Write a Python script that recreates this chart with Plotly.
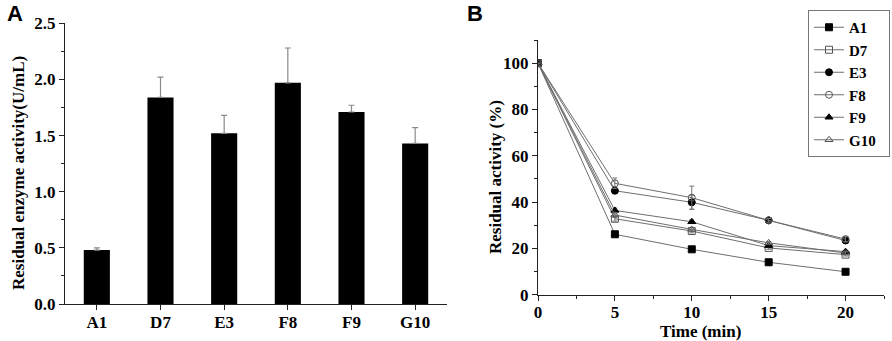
import plotly.graph_objects as go

# Panel A data
strains = ["A1", "D7", "E3", "F8", "F9", "G10"]
activity = [0.48, 1.84, 1.52, 1.97, 1.71, 1.43]
activity_err = [0.02, 0.18, 0.16, 0.31, 0.06, 0.14]

# Panel B data
time_min = [0, 5, 10, 15, 20]
res_A1 = [100, 26.1, 19.6, 14.0, 9.9]
res_D7 = [100, 32.8, 27.5, 20.2, 17.3]
res_E3 = [100, 44.9, 39.9, 32.1, 23.4]
res_F8 = [100, 48.1, 41.9, 32.1, 24.0]
res_F9 = [100, 36.4, 31.5, 21.2, 18.6]
res_G10 = [100, 34.4, 28.2, 22.4, 18.0]
err_A1 = [0, 0.8, 0.6, 0.5, 0.5]
err_D7 = [0, 1.0, 0.8, 0.6, 0.6]
err_E3 = [0, 1.0, 3.0, 0.6, 0.8]
err_F8 = [0, 2.3, 5.0, 0.8, 1.0]
err_F9 = [0, 1.0, 0.8, 0.6, 0.6]
err_G10 = [0, 1.0, 0.8, 0.6, 0.6]

FONT = "Liberation Serif"
SANS = "Liberation Sans"
LINE = "#6e6e6e"
W, H = 892, 341

fig = go.Figure()

fig.add_trace(go.Bar(
    x=strains, y=activity, width=0.41,
    marker=dict(color="black", line=dict(width=0)),
    error_y=dict(type="data", symmetric=False, array=activity_err,
                 arrayminus=[0]*len(activity_err), color="#8a8a8a",
                 thickness=1.2, width=3),
    xaxis="x", yaxis="y", showlegend=False,
))

series = [
    ("A1", res_A1, err_A1, "square", "black"),
    ("D7", res_D7, err_D7, "square-open", "#555555"),
    ("E3", res_E3, err_E3, "circle", "black"),
    ("F8", res_F8, err_F8, "circle-open", "#555555"),
    ("F9", res_F9, err_F9, "triangle-up", "black"),
    ("G10", res_G10, err_G10, "triangle-up-open", "#555555"),
]
for name, ys, es, sym, edge in series:
    fig.add_trace(go.Scatter(
        x=time_min, y=ys, name="<b>" + name + "</b>&nbsp;&nbsp;",
        mode="lines+markers",
        line=dict(color=LINE, width=1),
        marker=dict(symbol=sym, size=7, color=edge,
                    line=dict(color=edge, width=1)),
        error_y=dict(type="data", array=es, color="#777777",
                     thickness=1, width=2.5),
        xaxis="x2", yaxis="y2",
    ))

TICKFONT = dict(family=FONT, size=17, color="black", weight="bold")
axis_common = dict(
    showline=True, linecolor="#222222", linewidth=1.2, mirror=False,
    showgrid=False, zeroline=False, ticks="outside", ticklen=5,
    tickcolor="#222222", tickwidth=1.2, tickfont=TICKFONT,
    automargin=False,
)
minor_common = dict(ticks="outside", ticklen=3, tickcolor="#222222", tickwidth=1.2)


def ann(text, px, py, size=17, family=FONT, angle=0):
    return dict(text="<b>" + text + "</b>", x=px / W, y=1 - py / H,
                xref="paper", yref="paper",
                xanchor="center", yanchor="middle", showarrow=False,
                textangle=angle,
                font=dict(family=family, size=size, color="black"))


fig.update_layout(
    width=W, height=H,
    margin=dict(l=0, r=0, t=0, b=0, pad=0, autoexpand=False),
    paper_bgcolor="white", plot_bgcolor="white",
    xaxis=dict(domain=[65 / W, 447 / W], anchor="y",
               range=[-0.5, 5.5], ticklabelstandoff=-3, **axis_common),
    yaxis=dict(domain=[37 / H, 317.7 / H], anchor="x",
               range=[0, 2.5], tickvals=[0, 0.5, 1.0, 1.5, 2.0, 2.5],
               ticktext=["0.0", "0.5", "1.0", "1.5", "2.0", "2.5"],
               minor=dict(dtick=0.25, **minor_common),
               **axis_common),
    xaxis2=dict(domain=[538 / W, 884 / W], anchor="y2",
                range=[0, 22.5], tickvals=[0, 5, 10, 15, 20],
                minor=dict(dtick=2.5, **minor_common), ticklabelstandoff=-3,
                **axis_common),
    yaxis2=dict(domain=[46.3 / H, 301 / H], anchor="x2",
                range=[0, 110], tickvals=[0, 20, 40, 60, 80, 100],
                minor=dict(dtick=10, **minor_common),
                **axis_common),
    legend=dict(
        x=890 / W, y=1 - 10 / H, xanchor="right", yanchor="top",
        bgcolor="white", bordercolor="#777777", borderwidth=1,
        font=dict(family=FONT, size=15, color="black"),
        tracegroupgap=0, itemwidth=30,
    ),
    annotations=[
        ann("A", 15, 14, size=22, family=SANS),
        ann("B", 475, 14, size=22, family=SANS),
        ann("Residual enzyme activity(U/mL)", 18, 173, angle=-90),
        ann("Residual activity (%)", 495, 177, angle=-90),
        ann("Time (min)", 700, 331),
    ],
)

fig.write_html("out.html",
               config={"displayModeBar": False},
               post_script="document.body.style.margin='0px';")
